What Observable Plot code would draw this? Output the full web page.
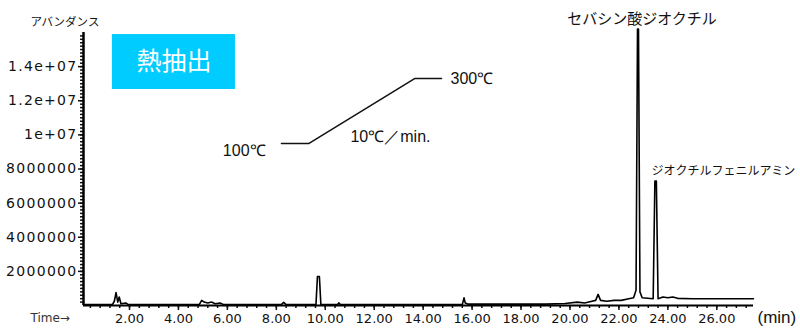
<!DOCTYPE html>
<html>
<head>
<meta charset="utf-8">
<script src="https://cdn.jsdelivr.net/npm/d3@7"></script>
<script src="https://cdn.jsdelivr.net/npm/@observablehq/plot@0.6"></script>
<style>
  html, body { margin: 0; padding: 0; background: #fff; }
  #chart svg { display: block; }
  g[aria-label="y-axis tick label"] { letter-spacing: 1.3px; }
</style>
</head>
<body>
<div id="chart"></div>
<script>
// Chromatogram (retention time in min, abundance)
const rt = [0.12, 1.30, 1.38, 1.45, 1.52, 1.58, 1.65, 1.85, 1.95,
  4.85, 4.95, 5.05, 5.20, 5.35, 5.50, 5.70, 5.85,
  8.20, 8.30, 8.40, 9.62, 9.68, 9.76, 9.82,
  10.50, 10.55, 10.62, 15.60, 15.67, 15.72, 15.85,
  19.00, 19.80, 20.30, 20.60, 20.90, 21.05, 21.15, 21.25, 21.50, 21.80, 22.10, 22.40, 22.60,
  22.70, 22.76, 22.80, 22.86, 22.95, 23.40, 23.47, 23.53, 23.60,
  23.80, 24.00, 24.20, 24.40, 25.00, 27.50];
const abundance = [0.05e6, 0.05e6, 0.25e6, 0.76e6, 0.2e6, 0.5e6, 0.1e6, 0.15e6, 0.05e6,
  0.05e6, 0.3e6, 0.2e6, 0.15e6, 0.2e6, 0.1e6, 0.15e6, 0.05e6,
  0.05e6, 0.18e6, 0.05e6, 0.05e6, 1.7e6, 1.7e6, 0.05e6,
  0.05e6, 0.15e6, 0.05e6, 0.05e6, 0.45e6, 0.15e6, 0.08e6,
  0.08e6, 0.12e6, 0.2e6, 0.15e6, 0.25e6, 0.3e6, 0.65e6, 0.3e6, 0.25e6, 0.3e6, 0.3e6, 0.4e6, 0.45e6,
  0.9e6, 16.2e6, 16.2e6, 0.8e6, 0.45e6, 0.4e6, 7.3e6, 7.3e6, 0.4e6,
  0.5e6, 0.45e6, 0.5e6, 0.42e6, 0.4e6, 0.4e6];

// Identified peaks
const peakNames = ["セバシン酸ジオクチル", "ジオクチルフェニルアミン"];
const peakTimes = [22.78, 23.50];
const peakTops = [16.2e6, 7.3e6];

// Axes
const xDomain = [0.12, 27.5];
const yDomain = [0, 1.6e7];
const xTicks = [2, 4, 6, 8, 10, 12, 14, 16, 18, 20, 22, 24, 26];
const xTickLabels = ["2.00", "4.00", "6.00", "8.00", "10.00", "12.00", "14.00", "16.00", "18.00", "20.00", "22.00", "24.00", "26.00"];
const yTicks = [2e6, 4e6, 6e6, 8e6, 1e7, 1.2e7, 1.4e7];
const yTickLabels = ["2000000", "4000000", "6000000", "8000000", "1e+07", "1.2e+07", "1.4e+07"];
const xMinor = d3.range(0.4, 27.5, 0.4);
const yMinor = d3.range(2e5, 1.6e7, 2e5);

// Annotation: extraction method box
const boxLabel = ["熱抽出"];
const boxX = [1.30, 6.33];
const boxY = [12.66e6, 15.88e6];

// Annotation: oven temperature program (schematic)
const progTimes = [8.21, 9.32, 13.65, 14.75];
const progLevels = [9.49e6, 9.49e6, 13.3e6, 13.3e6];
const progLabels = ["100℃", "300℃", "10℃／min."];
const progLabelTimes = [7.56, 15.12, 11.03];
const progLabelLevels = [9.08e6, 13.3e6, 9.9e6];

const chrom = rt.map((t, i) => ({t, a: abundance[i]}));
const peaks = peakNames.map((name, i) => ({name, t: peakTimes[i], a: peakTops[i]}));
const prog = progTimes.map((t, i) => ({t, a: progLevels[i]}));
const progText = progLabels.map((s, i) => ({s, t: progLabelTimes[i], a: progLabelLevels[i]}));
const box = [{x1: boxX[0], x2: boxX[1], y1: boxY[0], y2: boxY[1], label: boxLabel[0]}];

const num = "DejaVu Sans, sans-serif";
const jp = "Noto Sans CJK JP, sans-serif";
const ink = "#111";

const chart = Plot.plot({
  width: 800,
  height: 331,
  marginLeft: 83,
  marginRight: 47,
  marginTop: 32,
  marginBottom: 26,
  x: {domain: xDomain},
  y: {domain: yDomain},
  style: {background: "#fff", color: ink, overflow: "visible"},
  marks: [
    // box
    Plot.rect(box, {x1: "x1", x2: "x2", y1: "y1", y2: "y2", fill: "#00CCFF"}),
    Plot.text(box, {x: d => (d.x1 + d.x2) / 2, y: d => (d.y1 + d.y2) / 2, text: "label",
      fill: "#fff", fontSize: 25, fontFamily: jp}),
    // temperature program
    Plot.line(prog, {x: "t", y: "a", stroke: ink, strokeWidth: 1.5}),
    Plot.text(progText.slice(0, 1), {x: "t", y: "a", text: "s", textAnchor: "end", fontSize: 16, fontFamily: "Liberation Sans, sans-serif", fill: ink}),
    Plot.text(progText.slice(1), {x: "t", y: "a", text: "s", textAnchor: "start", fontSize: 16, fontFamily: "Liberation Sans, sans-serif", fill: ink}),
    // axes
    Plot.axisY(yMinor, {tickSize: 3, tickFormat: () => "", label: null, strokeWidth: 1.5}),
    Plot.axisY(yTicks, {tickSize: 5, tickPadding: 1, label: null, strokeWidth: 1.5,
      tickFormat: d => yTickLabels[yTicks.indexOf(d)], fontSize: 14, fontFamily: num, fill: ink}),
    Plot.axisX(xMinor, {tickSize: 3, tickFormat: () => "", label: null, strokeWidth: 1.5}),
    Plot.axisX(xTicks, {tickSize: 5, tickPadding: 3, label: null, strokeWidth: 1.5,
      tickFormat: d => xTickLabels[xTicks.indexOf(d)], fontSize: 13, fontFamily: num, fill: ink}),
    Plot.ruleY([yDomain[0]], {stroke: "#000", strokeWidth: 2}),
    Plot.ruleX([xDomain[0]], {stroke: "#000", strokeWidth: 2.5}),
    // chromatogram
    Plot.line(chrom, {x: "t", y: "a", stroke: "#000", strokeWidth: 1.6}),
    // peak labels
    Plot.text(peaks.slice(0, 1), {x: "t", y: "a", text: "name", dy: -10, dx: 4, fontSize: 15, fontFamily: jp, fill: ink}),
    Plot.text(peaks.slice(1), {x: "t", y: "a", text: "name", dy: -10, dx: -4, textAnchor: "start", fontSize: 12, fontFamily: jp, fill: ink}),
    // axis titles
    Plot.text(["アバンダンス"], {frameAnchor: "top-left", dx: -53, dy: -15, textAnchor: "start", fontSize: 11.5, fontFamily: jp, fill: ink}),
    Plot.text(["Time→"], {frameAnchor: "bottom-left", dx: -53, dy: 16, textAnchor: "start", fontSize: 12, fontFamily: num, fill: "#333"}),
    Plot.text(["(min)"], {frameAnchor: "bottom-right", dx: 4, dy: 17, textAnchor: "start", fontSize: 17, fontFamily: "Liberation Sans, sans-serif", fill: ink})
  ]
});
document.getElementById("chart").appendChild(chart);
</script>
</body>
</html>
